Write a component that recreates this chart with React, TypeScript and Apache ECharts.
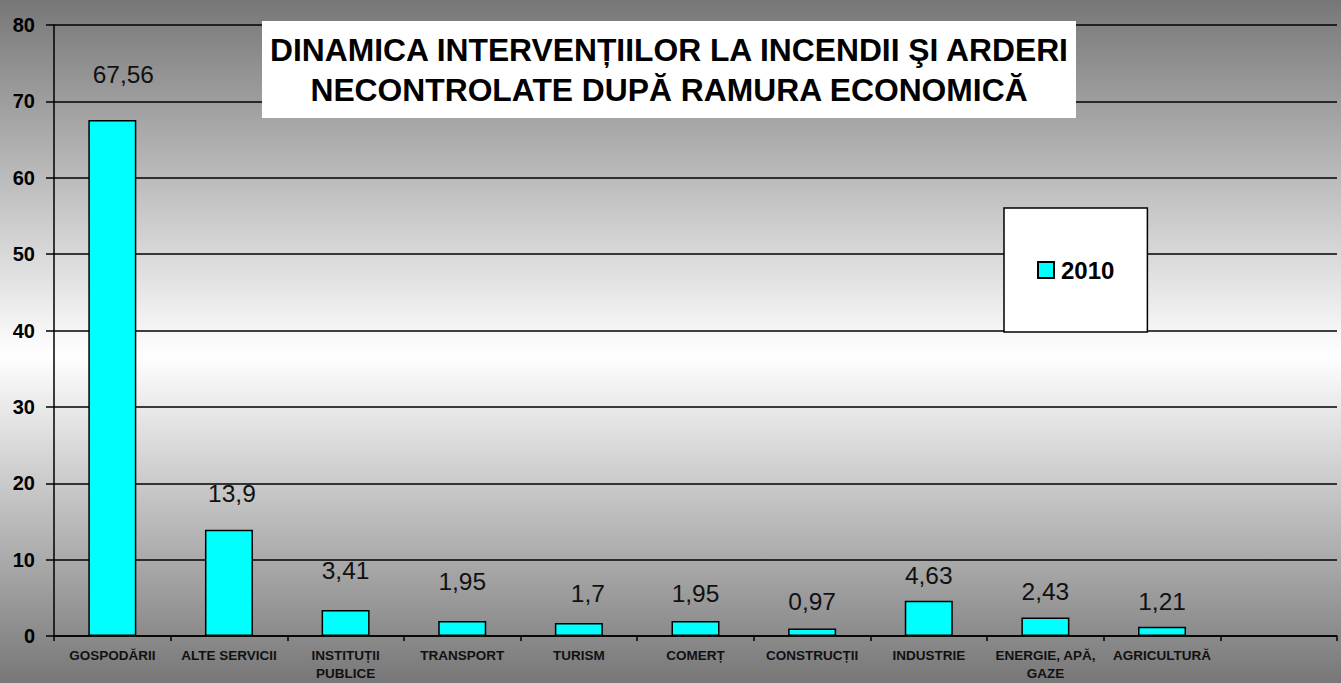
import React, { useEffect, useRef } from "react";
import * as echarts from "echarts";

const categories = [
  "GOSPODĂRII",
  "ALTE SERVICII",
  "INSTITUȚII\nPUBLICE",
  "TRANSPORT",
  "TURISM",
  "COMERȚ",
  "CONSTRUCȚII",
  "INDUSTRIE",
  "ENERGIE, APĂ,\nGAZE",
  "AGRICULTURĂ",
  "",
];
const values2010 = [67.56, 13.9, 3.41, 1.95, 1.7, 1.95, 0.97, 4.63, 2.43, 1.21];
const seriesName = "2010";
const titleLines = [
  "DINAMICA INTERVENȚIILOR LA INCENDII ŞI ARDERI",
  "NECONTROLATE DUPĂ RAMURA ECONOMICĂ",
];
const yMin = 0;
const yMax = 80;
const yStep = 10;

const FONT = 'Arial, "Liberation Sans", sans-serif';

// manual nudges of the value labels, as placed in the original chart (style only)
const labelNudges: [number, number][] = [
  [11, -20],
  [3, -11],
  [0, -14],
  [0, -14],
  [9, -4],
  [0, -2],
  [0, -2],
  [0, 0],
  [0, 0],
  [0, 0],
];

export default function App() {
  const ref = useRef<HTMLDivElement>(null);
  useEffect(() => {
    if (!ref.current) return;
    const chart = echarts.init(ref.current, null, { renderer: "svg" });
    chart.setOption({
      animation: false,
      backgroundColor: "transparent",
      textStyle: { fontFamily: FONT },
      grid: {
        left: 54,
        right: 4,
        top: 25,
        bottom: 47,
        containLabel: false,
        outerBoundsMode: "none",
      },
      legend: {
        data: [seriesName],
        left: 1004,
        top: 208,
        orient: "vertical",
        backgroundColor: "#ffffff",
        borderColor: "#000000",
        borderWidth: 1.5,
        borderRadius: 0,
        padding: [50, 33, 50, 33],
        itemWidth: 16,
        itemHeight: 16,
        itemGap: 0,
        icon: "rect",
        textStyle: {
          fontFamily: FONT,
          fontSize: 24,
          fontWeight: "bold",
          color: "#000",
          lineHeight: 22,
          padding: [0, 0, 0, 2],
        },
        selectedMode: false,
      },
      graphic: [
        {
          type: "rect",
          shape: { x: 262, y: 21, width: 814, height: 97 },
          style: { fill: "#ffffff" },
          z: 10,
        },
        {
          type: "text",
          x: 669,
          y: 69.5,
          z: 11,
          style: {
            text: titleLines.join("\n"),
            fontFamily: FONT,
            fontSize: 31.8,
            fontWeight: "bold",
            lineHeight: 40,
            fill: "#000",
            textAlign: "center",
            textVerticalAlign: "middle",
          },
        },
      ],
      xAxis: {
        type: "category",
        data: categories,
        boundaryGap: true,
        axisLine: { show: true, lineStyle: { color: "#000", width: 1.5 } },
        axisTick: { show: true, interval: 0, length: 5, lineStyle: { color: "#000", width: 1.5 } },
        axisLabel: {
          interval: 0,
          margin: 10,
          fontFamily: FONT,
          fontSize: 13.5,
          fontWeight: "bold",
          color: "#111",
          lineHeight: 18,
        },
        splitLine: { show: false },
      },
      yAxis: {
        type: "value",
        min: yMin,
        max: yMax,
        interval: yStep,
        axisLine: { show: true, lineStyle: { color: "#000", width: 1.5 } },
        axisTick: { show: true, length: 8, lineStyle: { color: "#000", width: 1.5 } },
        axisLabel: {
          margin: 19,
          fontFamily: FONT,
          fontSize: 20,
          fontWeight: "bold",
          color: "#000",
        },
        splitLine: { show: true, lineStyle: { color: "#000", width: 1.5 } },
      },
      series: [
        {
          name: seriesName,
          type: "bar",
          data: values2010.map((v, i) => ({
            value: v,
            label: { offset: labelNudges[i] || [0, 0] },
          })),
          barWidth: 48,
          itemStyle: { color: "#00ffff", borderColor: "#000", borderWidth: 1.5 },
          label: {
            show: true,
            position: "top",
            distance: 13,
            fontFamily: FONT,
            fontSize: 24.5,
            color: "#111",
            formatter: (p: any) => String(p.value).replace(".", ","),
          },
        },
      ],
    });
    return () => chart.dispose();
  }, []);
  return (
    <div
      ref={ref}
      style={{
        position: "fixed",
        left: 0,
        top: 0,
        width: 1341,
        height: 683,
        background: "linear-gradient(to bottom, #777777 0%, #ffffff 52%, #777777 100%)",
      }}
    />
  );
}
